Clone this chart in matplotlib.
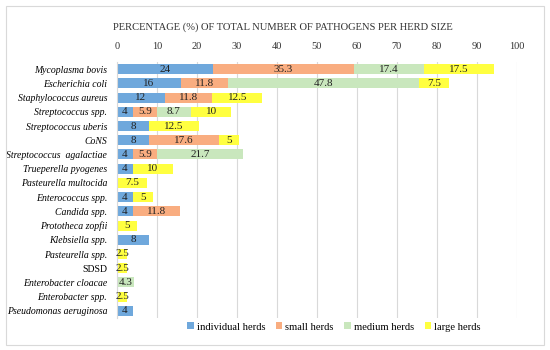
import numpy as np
import matplotlib.pyplot as plt
from matplotlib.patches import Rectangle

plt.rcParams['font.family'] = ['Liberation Serif', 'DejaVu Serif']

# Data
pathogens = ['Mycoplasma bovis', 'Escherichia coli', 'Staphylococcus aureus',
             'Streptococcus spp.', 'Streptococcus uberis', 'CoNS',
             'Streptococcus  agalactiae', 'Trueperella pyogenes',
             'Pasteurella multocida', 'Enterococcus spp.', 'Candida spp.',
             'Prototheca zopfii', 'Klebsiella spp.', 'Pasteurella spp.',
             'SDSD', 'Enterobacter cloacae', 'Enterobacter spp.',
             'Pseudomonas aeruginosa']
individual = [24, 16, 12, 4, 8, 8, 4, 4, 0, 4, 4, 0, 8, 0, 0, 0, 0, 4]
small = [35.3, 11.8, 11.8, 5.9, 0, 17.6, 5.9, 0, 0, 0, 11.8, 0, 0, 0, 0, 0, 0, 0]
medium = [17.4, 47.8, 0, 8.7, 0, 0, 21.7, 0, 0, 0, 0, 0, 0, 0, 0, 4.3, 0, 0]
large = [17.5, 7.5, 12.5, 10, 12.5, 5, 0, 10, 7.5, 5, 0, 5, 0, 2.5, 2.5, 0, 2.5, 0]

series = [('individual herds', individual, '#6fa8dc'),
          ('small herds', small, '#f9ad80'),
          ('medium herds', medium, '#c9e7bd'),
          ('large herds', large, '#ffff40')]

fig = plt.figure(figsize=(5.5, 3.5), dpi=100)
ax = fig.add_axes([117/550, 1-318/350, 400/550, 256/350])

y = np.arange(len(pathogens))
left = np.zeros(len(pathogens))
for name, vals, col in series:
    vals = np.array(vals, dtype=float)
    ax.barh(y, vals, left=left, height=0.7, color=col, label=name, zorder=2)
    for yi, (l, v) in enumerate(zip(left, vals)):
        if v > 0:
            ax.text(l + v/2, yi, f'{v:g}', ha='center', va='center',
                    fontsize=8, color='#222222', zorder=3)
    left += vals

ax.set_xlim(0, 100)
ax.set_ylim(len(pathogens) - 0.5, -0.5)
ax.set_xticks(np.arange(0, 101, 10))
ax.xaxis.tick_top()
ax.tick_params(axis='x', length=0, labelsize=7.5, pad=8, colors='#333333')
ax.tick_params(axis='y', length=0, labelsize=7, pad=7)
ax.set_yticks(y)
ax.set_yticklabels(pathogens)
for lab in ax.get_yticklabels():
    if lab.get_text() != 'SDSD':
        lab.set_fontstyle('italic')
ax.grid(axis='x', color='#d9d9d9', linewidth=0.8, zorder=0)
for s in ['top', 'right', 'bottom']:
    ax.spines[s].set_visible(False)
ax.spines['left'].set_color('#d9d9d9')

fig.text(283/550, 1-27/350, 'PERCENTAGE (%) OF TOTAL NUMBER OF PATHOGENS PER HERD SIZE',
         ha='center', va='center', fontsize=7.6, color='#333333')

fig.legend(loc='center', bbox_to_anchor=(334/550, 1-327/350), ncol=4, frameon=False,
           fontsize=7.6, handlelength=0.6, handleheight=0.6, handletextpad=0.3,
           columnspacing=1.0)

fig.patches.append(Rectangle((6/550, 5/350), 538/550, 339/350, transform=fig.transFigure,
                             fill=False, edgecolor='#d9d9d9', linewidth=0.8))

fig.savefig('out.png', dpi=100)
